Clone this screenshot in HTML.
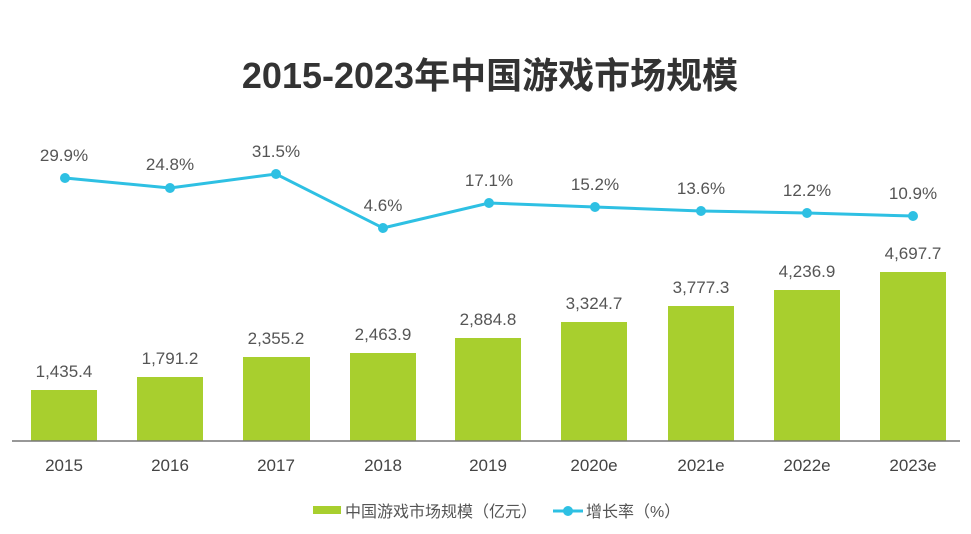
<!DOCTYPE html>
<html><head><meta charset="utf-8"><style>
html,body{margin:0;padding:0;background:#fff;}
svg{display:block;font-family:"Liberation Sans","Noto Sans CJK SC",sans-serif;}
</style></head><body>
<svg width="971" height="534" viewBox="0 0 971 534">
<text x="490" y="88" text-anchor="middle" font-size="36" font-weight="bold" fill="#333">2015-2023年中国游戏市场规模</text>
<g fill="#a8cf2e">
<rect x="31" y="390" width="66" height="51"/>
<rect x="137" y="377" width="66" height="64"/>
<rect x="243" y="357" width="67" height="84"/>
<rect x="350" y="353" width="66" height="88"/>
<rect x="455" y="338" width="66" height="103"/>
<rect x="561" y="322" width="66" height="119"/>
<rect x="668" y="306" width="66" height="135"/>
<rect x="774" y="290" width="66" height="151"/>
<rect x="880" y="272" width="66" height="169"/>
</g>
<line x1="12" y1="441" x2="960" y2="441" stroke="#777" stroke-width="1.5"/>
<g font-size="17" fill="#555" text-anchor="middle">
<text x="64" y="377">1,435.4</text>
<text x="170" y="364">1,791.2</text>
<text x="276" y="344">2,355.2</text>
<text x="383" y="340">2,463.9</text>
<text x="488" y="325">2,884.8</text>
<text x="594" y="309">3,324.7</text>
<text x="701" y="293">3,777.3</text>
<text x="807" y="277">4,236.9</text>
<text x="913" y="259">4,697.7</text>
</g>
<polyline points="65,178 170,188 276,174 383,228 489,203 595,207 701,211 807,213 913,216" fill="none" stroke="#2ec0e3" stroke-width="3"/>
<g fill="#2ec0e3">
<circle cx="65" cy="178" r="5"/><circle cx="170" cy="188" r="5"/><circle cx="276" cy="174" r="5"/>
<circle cx="383" cy="228" r="5"/><circle cx="489" cy="203" r="5"/><circle cx="595" cy="207" r="5"/>
<circle cx="701" cy="211" r="5"/><circle cx="807" cy="213" r="5"/><circle cx="913" cy="216" r="5"/>
</g>
<g font-size="17" fill="#555" text-anchor="middle">
<text x="64" y="161">29.9%</text>
<text x="170" y="170">24.8%</text>
<text x="276" y="157">31.5%</text>
<text x="383" y="211">4.6%</text>
<text x="489" y="186">17.1%</text>
<text x="595" y="190">15.2%</text>
<text x="701" y="194">13.6%</text>
<text x="807" y="196">12.2%</text>
<text x="913" y="199">10.9%</text>
</g>
<g font-size="17" fill="#444" text-anchor="middle">
<text x="64" y="471">2015</text>
<text x="170" y="471">2016</text>
<text x="276" y="471">2017</text>
<text x="383" y="471">2018</text>
<text x="488" y="471">2019</text>
<text x="594" y="471">2020e</text>
<text x="701" y="471">2021e</text>
<text x="807" y="471">2022e</text>
<text x="913" y="471">2023e</text>
</g>
<rect x="313" y="506" width="28" height="8" fill="#a8cf2e"/>
<text x="345" y="517" font-size="16" fill="#555">中国游戏市场规模（亿元）</text>
<line x1="553" y1="511" x2="583" y2="511" stroke="#2ec0e3" stroke-width="3"/>
<circle cx="568" cy="511" r="5" fill="#2ec0e3"/>
<text x="586" y="517" font-size="16" fill="#555">增长率（%）</text>
</svg>
</body></html>
